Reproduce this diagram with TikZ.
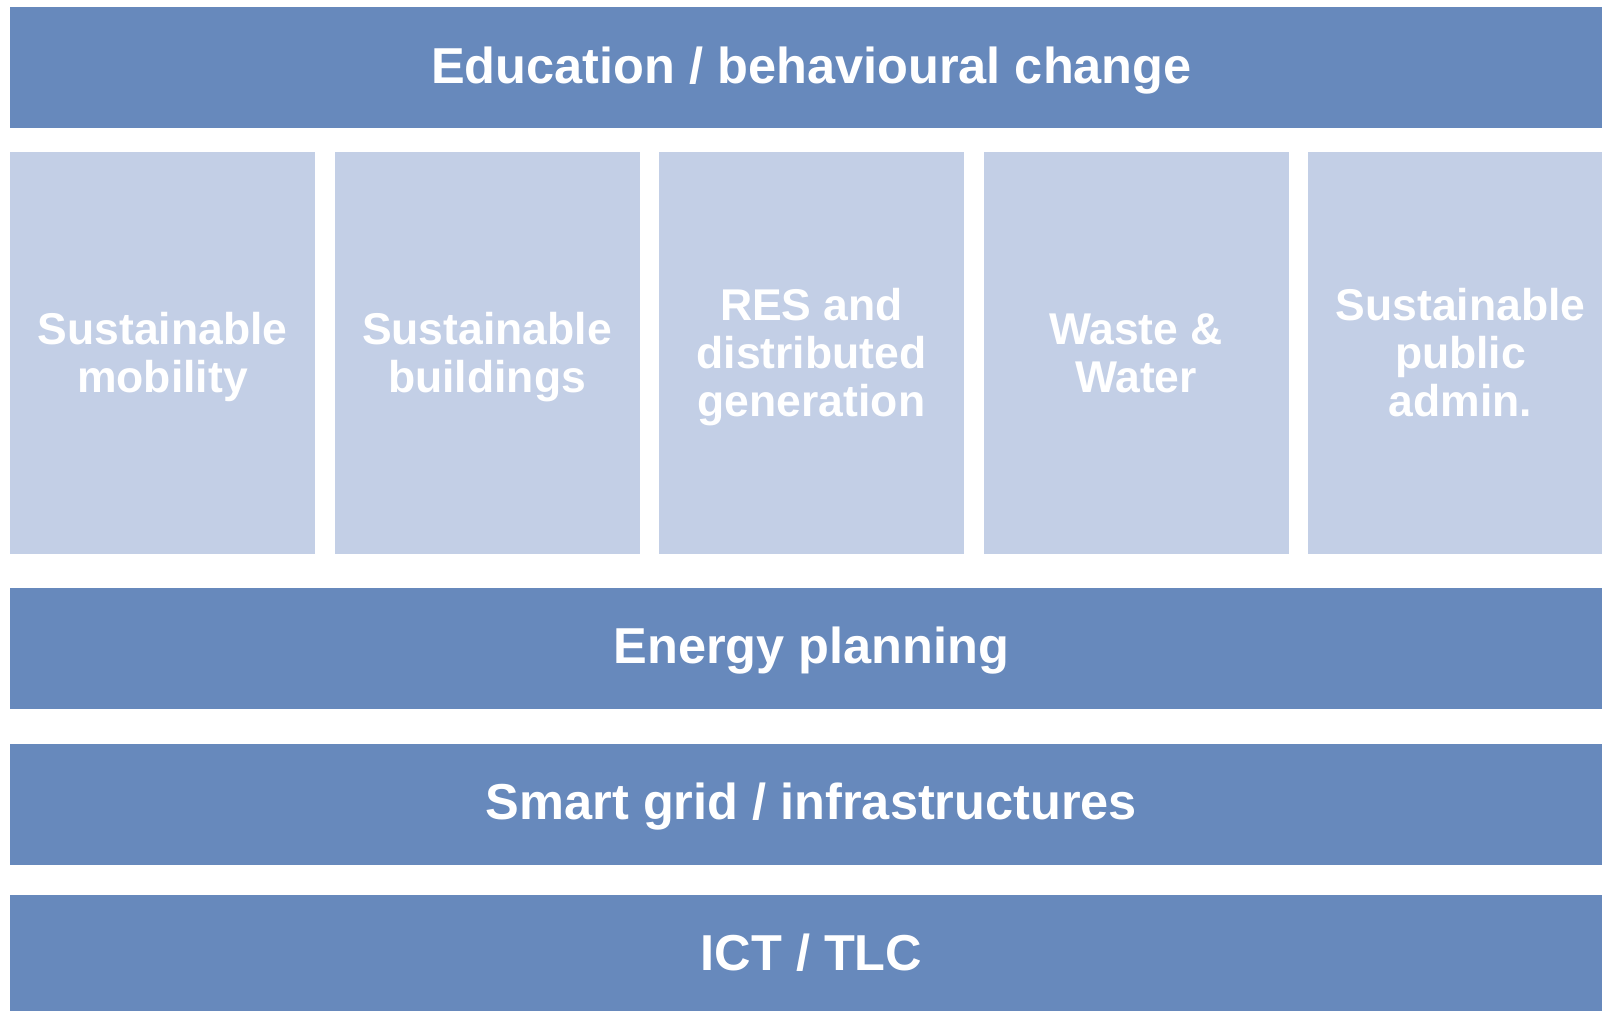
\documentclass[tikz,border=0pt]{standalone}
\usepackage{fontspec}
\setmainfont{Liberation Sans}
\definecolor{darkbar}{RGB}{103,137,188}
\definecolor{lightbox}{RGB}{195,207,230}
\begin{document}
\begin{tikzpicture}[x=1pt,y=-1pt,
  bar/.style={fill=darkbar, draw=none, inner sep=0pt, outer sep=0pt,
    minimum width=1603pt, minimum height=120.7pt, text=white,
    font=\fontsize{50.5}{56}\selectfont\bfseries, text height=36pt, text depth=5pt},
  pillar/.style={fill=lightbox, draw=none, inner sep=0pt, outer sep=0pt,
    minimum width=305pt, minimum height=401.7pt, text=white,
    font=\fontsize{44.5}{48}\selectfont\bfseries, align=center, text depth=0pt}]
\useasboundingbox (0,0) rectangle (1602,1010);
\clip (0,0) rectangle (1602,1010);
\node[bar] (top) at (811.5,67.5) {Education / behavioural change};
\node[pillar] (p1) at (162.5,352.85) {Sustainable\\mobility};
\node[pillar] (p2) at (487,352.85) {Sustainable\\buildings};
\node[pillar] (p3) at (811.5,352.85) {RES and\\distributed\\generation};
\node[pillar] (p4) at (1136,352.85) {Waste \&\\Water};
\node[pillar] (p5) at (1460.5,352.85) {Sustainable\\public\\admin.};
\node[bar] (energy) at (811.5,648.3) {Energy planning};
\node[bar] (grid) at (811.5,804.3) {Smart grid / infrastructures};
\node[bar] (ict) at (811.5,955.2) {ICT / TLC};
\end{tikzpicture}
\end{document}
